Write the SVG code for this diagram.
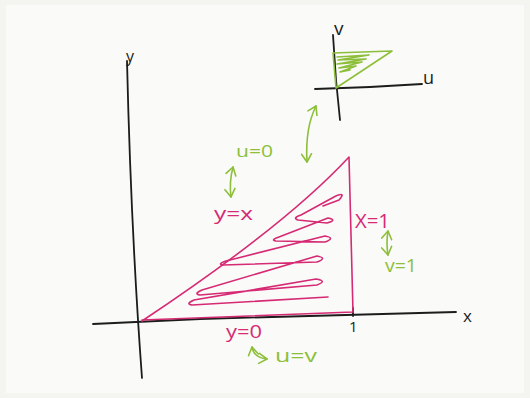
<svg xmlns="http://www.w3.org/2000/svg" width="530" height="398" viewBox="0 0 530 398">
  <defs>
    <style>
      .ax { fill: none; stroke: #1c1c1c; stroke-width: 1.8; stroke-linecap: round; stroke-linejoin: round; }
      .pk { fill: none; stroke: #d62a74; stroke-width: 1.6; stroke-linecap: round; stroke-linejoin: round; }
      .gr { fill: none; stroke: #8dbf3a; stroke-width: 1.6; stroke-linecap: round; stroke-linejoin: round; }
      .arr { marker-start: url(#chev); marker-end: url(#chev); }
      text { font-family: "Open Sans", "Liberation Sans", sans-serif; font-weight: 400; }
      .tk { fill: #1c1c1c; }
      .tp { fill: #d62a74; }
      .tg { fill: #8dbf3a; }
    </style>
    <marker id="chev" viewBox="-9 -6 11 12" refX="0" refY="0" markerWidth="11" markerHeight="12" markerUnits="userSpaceOnUse" orient="auto-start-reverse">
      <path d="M-8,-5 L0,0 L-8,5" fill="none" stroke="#8dbf3a" stroke-width="1.6" stroke-linecap="round" stroke-linejoin="round"/>
    </marker>
  </defs>
  <rect x="0" y="0" width="530" height="398" fill="#f4f4f1"/>
  <rect x="6" y="5" width="518" height="388" fill="#fafaf8"/>

  <g id="main-axes">
    <path class="ax" d="M127,61 Q131,230 142,378"/>
    <path class="ax" d="M93,324 L200,319 L456,312"/>
    <path class="ax" d="M353,308 L353,316"/>
    <text class="tk" x="126" y="62" font-size="16">y</text>
    <text class="tk" x="463" y="322" font-size="17">x</text>
    <text class="tk" x="349" y="332" font-size="15">1</text>
  </g>

  <g id="region">
    <path class="pk" d="M142,321 Q285,226 349,157 L353,312 L142,320"/>
    <path class="pk" d="M328,297 L192,305 Q185,304 194,300 L316,279 Q328,281 317,285 L200,295 Q193,294 202,290 L317,256 Q328,258 317,262 L223,265 Q217,264 226,261 L325,236 Q336,238 325,242 L276,241 Q270,240 279,237 L328,218 Q338,220 327,223 L298,220 Q292,218 301,215 L334,197 Q347,191 339,200 L323,206"/>
    <text class="tp" x="214" y="220" font-size="18" textLength="39" lengthAdjust="spacingAndGlyphs">y=x</text>
    <text class="tp" x="355" y="228" font-size="20" textLength="35" lengthAdjust="spacingAndGlyphs">X=1</text>
    <text class="tp" x="226" y="338" font-size="18" textLength="36" lengthAdjust="spacingAndGlyphs">y=0</text>
  </g>

  <g id="uv-diagram">
    <path class="ax" d="M333,35 L336,80 L340,120"/>
    <path class="ax" d="M315,89 L370,87 L422,84"/>
    <text class="tk" x="334" y="35" font-size="19">v</text>
    <text class="tk" x="423" y="84" font-size="18">u</text>
    <path class="gr" d="M336,88 L333,53 L392,51 L336,88"/>
    <path class="gr" d="M337,57 L369,55 L338,60 L366,59 L337,64 L362,62 L339,68 L356,66 L340,72 L350,70"/>
  </g>

  <g id="connectors">
    <path class="gr arr" d="M316,106 Q305,128 307,162"/>
    <path class="gr arr" d="M233,167 Q229,182 231,197"/>
    <path class="gr arr" d="M388,231 Q386,243 388,255"/>
    <path class="gr arr" d="M252,347 Q254,358 267,359"/>
  </g>

  <g id="labels-uv">
    <text class="tg" x="236" y="157" font-size="17" textLength="37" lengthAdjust="spacingAndGlyphs">u=0</text>
    <text class="tg" x="385" y="272" font-size="19" textLength="32" lengthAdjust="spacingAndGlyphs">v=1</text>
    <text class="tg" x="275" y="362" font-size="19" textLength="42" lengthAdjust="spacingAndGlyphs">u=v</text>
  </g>
</svg>
